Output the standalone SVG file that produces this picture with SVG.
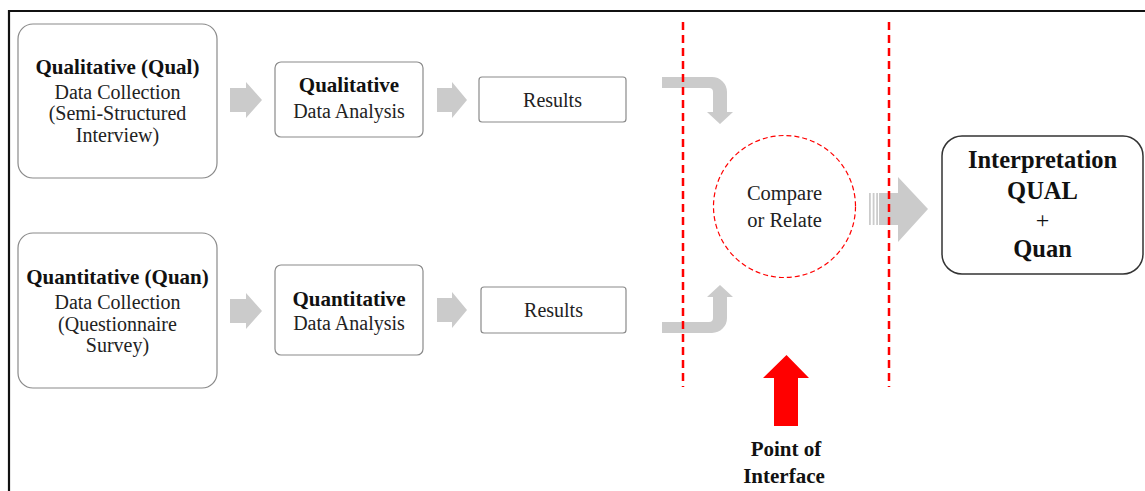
<svg xmlns="http://www.w3.org/2000/svg" width="1145" height="491" viewBox="0 0 1145 491">
<style>
.t{font-family:"Liberation Serif","Times New Roman",serif;font-size:20px;fill:#222;text-anchor:middle}
.b{font-weight:bold;font-size:21px;fill:#111}
.box{fill:#fff;stroke:#8a8a8a;stroke-width:1.2}
.arr{fill:#cbcbcb}
.red{stroke:#ff0000;stroke-width:2.5;stroke-dasharray:8 5;fill:none}
</style>
<rect x="0" y="0" width="1145" height="491" fill="#fff"/>
<path d="M9,491 V11 H1145" fill="none" stroke="#111" stroke-width="2.2"/>

<g id="qual-collection">
<rect class="box" x="18" y="24" width="199" height="154" rx="15"/>
<text class="t b" x="117.5" y="74">Qualitative (Qual)</text>
<text class="t" x="117.5" y="99">Data Collection</text>
<text class="t" x="117.5" y="120">(Semi-Structured</text>
<text class="t" x="117.5" y="142">Interview)</text>
</g>
<g id="qual-analysis">
<rect class="box" x="275" y="62" width="148" height="75" rx="6"/>
<text class="t b" x="349" y="92">Qualitative</text>
<text class="t" x="349" y="118">Data Analysis</text>
</g>
<g id="qual-results">
<rect class="box" x="479" y="77" width="147" height="45" rx="3"/>
<text class="t" x="552.5" y="107">Results</text>
</g>

<g id="quan-collection">
<rect class="box" x="18" y="233" width="199" height="155" rx="15"/>
<text class="t b" x="117.5" y="284">Quantitative (Quan)</text>
<text class="t" x="117.5" y="309">Data Collection</text>
<text class="t" x="117.5" y="331">(Questionnaire</text>
<text class="t" x="117.5" y="352">Survey)</text>
</g>
<g id="quan-analysis">
<rect class="box" x="275" y="265" width="148" height="90" rx="6"/>
<text class="t b" x="349" y="306">Quantitative</text>
<text class="t" x="349" y="330">Data Analysis</text>
</g>
<g id="quan-results">
<rect class="box" x="481" y="287" width="145" height="46" rx="3"/>
<text class="t" x="553.5" y="317">Results</text>
</g>

<g id="compare">
<circle cx="784.5" cy="206.5" r="71" fill="none" stroke="#ff0000" stroke-width="1.2" stroke-dasharray="5 3"/>
<text class="t" x="784.5" y="200" style="font-size:20.5px">Compare</text>
<text class="t" x="784.5" y="227" style="font-size:20.5px">or Relate</text>
</g>

<g id="interpretation">
<rect x="942" y="136" width="201" height="138" rx="20" fill="#fff" stroke="#333" stroke-width="1.5"/>
<text class="t b" x="1042.5" y="168" style="font-size:24.5px">Interpretation</text>
<text class="t b" x="1042.5" y="199" style="font-size:24.5px">QUAL</text>
<text class="t" x="1042.5" y="228" style="font-size:24px;fill:#111">+</text>
<text class="t b" x="1042.5" y="257" style="font-size:24.5px">Quan</text>
</g>

<g id="point-of-interface">
<path d="M774,426 V378 H763 L786.5,355 L809,378 H798 V426 Z" fill="#ff0000"/>
<text class="t b" x="786" y="456">Point of</text>
<text class="t b" x="784" y="483">Interface</text>
</g>

<g id="connectors">
<path class="arr" d="M230,88 H246 V82 L262,100 L246,118 V112 H230 Z"/>
<path class="arr" d="M437,88 H452 V82 L467,100 L452,118 V112 H437 Z"/>
<path class="arr" d="M230,299 H246 V293 L262,311 L246,329 V323 H230 Z"/>
<path class="arr" d="M437,298 H452 V292 L467,310 L452,328 V322 H437 Z"/>
<path class="arr" d="M662,77 H712 A15,15 0 0 1 727,92 V112 H733 L720,124 L707,112 H713 V92 A4,4 0 0 0 709,88 H662 Z"/>
<path class="arr" d="M662,333 H712 A15,15 0 0 0 727,318 V297 H733 L720,285 L707,297 H713 V318 A4,4 0 0 1 709,322 H662 Z"/>
<rect class="arr" x="869" y="193" width="1.8" height="32"/>
<rect class="arr" x="872.7" y="193" width="1.8" height="32"/>
<rect class="arr" x="876.2" y="193" width="1.8" height="32"/>
<path class="arr" d="M879,193 H898 V177 L928,209 L898,242 V225 H879 Z"/>
<line class="red" x1="683" y1="22" x2="683" y2="387"/>
<line class="red" x1="889" y1="22" x2="889" y2="387"/>
</g>
</svg>
